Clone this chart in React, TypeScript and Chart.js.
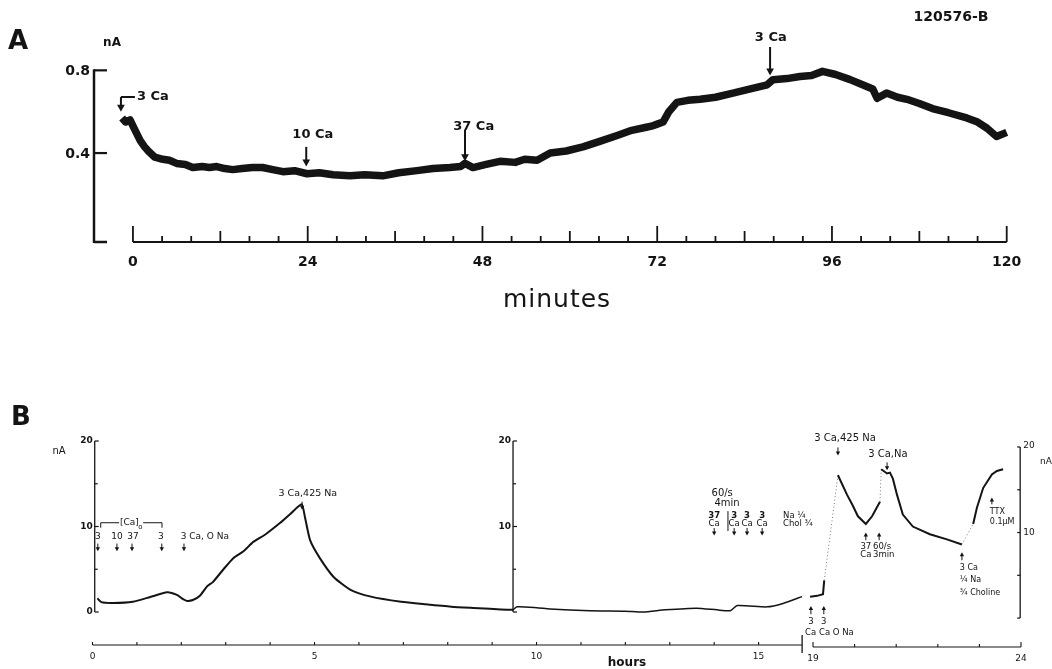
import React, { useEffect, useRef } from 'react';
import { Chart, registerables } from 'chart.js';

Chart.register(...registerables);

const FONT = '"DejaVu Sans", sans-serif';
const INK = '#141414';

// ---------- Panel A: current (nA) vs minutes ----------
const minutesA = [
  -1.5, -1.0, -0.4, 0.3, 1.0, 1.6, 2.1, 3.0, 4.1, 5.0, 6.0, 7.2, 8.2, 9.5, 10.5, 11.5, 12.6, 13.7, 15.0,
  16.4, 17.8, 19.2, 20.6, 22.2, 23.9, 25.6, 27.5, 29.8, 31.8, 34.3, 36.5, 39.0, 41.2, 43.5, 45.0, 45.6,
  46.7, 48.5, 50.4, 52.5, 53.8, 55.5, 57.3, 59.5, 61.8, 64.0, 66.5, 68.5, 70.5, 71.2, 72.0, 72.8, 73.6,
  74.7, 76.2, 77.9, 80.0, 82.4, 84.8, 87.1, 87.9, 89.8, 91.6, 93.2, 94.7, 96.5, 98.5, 100.2, 101.6,
  102.2, 103.5, 105.0, 106.3, 108.0, 109.8, 112.0, 114.5, 116.0, 117.3, 118.6, 120.0,
];
const currentA = [
  0.57, 0.55, 0.56, 0.51, 0.46, 0.43, 0.41, 0.38, 0.37, 0.365, 0.35, 0.345, 0.33, 0.335, 0.33, 0.335,
  0.325, 0.32, 0.325, 0.33, 0.33, 0.32, 0.31, 0.315, 0.3, 0.305, 0.295, 0.29, 0.295, 0.29, 0.305, 0.315,
  0.325, 0.33, 0.335, 0.35, 0.33, 0.345, 0.36, 0.355, 0.37, 0.365, 0.4, 0.41, 0.43, 0.455, 0.485, 0.51,
  0.525, 0.53, 0.54, 0.55, 0.6, 0.645, 0.655, 0.66, 0.67, 0.69, 0.71, 0.73, 0.755, 0.76, 0.77, 0.775,
  0.795, 0.78, 0.755, 0.73, 0.71, 0.665, 0.69, 0.67, 0.66, 0.64, 0.615, 0.595, 0.57, 0.55, 0.52, 0.48, 0.5,
];
const xTicksA = [0, 24, 48, 72, 96, 120];
const yTicksA = [0.4, 0.8];

// ---------- Panel B: current (nA) vs hours ----------
const hoursB1 = [
  0.11, 0.2, 0.46, 0.91, 1.3, 1.68, 1.9, 2.04, 2.13, 2.26, 2.42, 2.58, 2.71, 2.95, 3.17, 3.4, 3.62, 3.9,
  4.22, 4.46, 4.71, 4.78, 4.9, 5.12, 5.43, 5.81, 6.27, 6.95, 7.5, 8.08, 8.7, 9.2, 9.47,
];
const currentB1 = [
  1.6, 1.15, 1.05, 1.2, 1.75, 2.3, 2.0, 1.5, 1.3, 1.4, 1.9, 3.0, 3.5, 5.0, 6.3, 7.1, 8.2, 9.1, 10.4,
  11.5, 12.6, 11.2, 8.4, 6.3, 4.1, 2.6, 1.8, 1.2, 0.9, 0.62, 0.45, 0.3, 0.25,
];
const hoursB2 = [9.47, 9.56, 10.0, 10.3, 11.2, 12.0, 12.4, 12.9, 13.6, 14.06, 14.36, 14.52, 15.19, 15.55, 15.98];
const currentB2 = [0.25, 0.6, 0.5, 0.35, 0.15, 0.1, 0.0, 0.25, 0.45, 0.25, 0.15, 0.75, 0.6, 1.0, 1.8];
const hoursB3 = [
  18.93, 19.1, 19.24, 19.27, 19.6, 19.82, 19.94, 20.08, 20.27, 20.42, 20.61, 20.64, 20.78, 20.85, 20.92,
  21.02, 21.16, 21.4, 21.81, 22.22, 22.58, 22.85, 22.94, 23.09, 23.3, 23.42, 23.57,
];
const currentB3 = [
  2.5, 2.6, 2.8, 4.4, 16.7, 14.4, 13.3, 11.9, 11.0, 11.9, 13.6, 17.4, 16.9, 17.0, 16.3, 14.4, 12.1, 10.7,
  9.8, 9.2, 8.6, 11.0, 12.9, 15.2, 16.8, 17.2, 17.4,
];
const penJumpStartsB3 = [19.27, 20.61, 22.58];
const xTickLabelsB1 = [0, 5, 10, 15];
const xTickLabelsB3 = [19, 24];
const yTickLabelsB = [0, 10, 20];

// ---------- drawing helpers ----------
function line(ctx: CanvasRenderingContext2D, x1: number, y1: number, x2: number, y2: number, w = 1) {
  ctx.beginPath();
  ctx.lineWidth = w;
  ctx.moveTo(x1, y1);
  ctx.lineTo(x2, y2);
  ctx.stroke();
}
function label(
  ctx: CanvasRenderingContext2D,
  s: string,
  x: number,
  y: number,
  size: number,
  bold = false,
  align: CanvasTextAlign = 'center',
) {
  ctx.font = `${bold ? 'bold ' : ''}${size}px ${FONT}`;
  ctx.textAlign = align;
  ctx.textBaseline = 'middle';
  ctx.fillText(s, x, y);
}
function arrow(ctx: CanvasRenderingContext2D, x: number, yFrom: number, yTip: number, head: number, w: number) {
  const dir = yTip > yFrom ? 1 : -1;
  line(ctx, x, yFrom, x, yTip - dir * head * 0.5, w);
  ctx.beginPath();
  ctx.moveTo(x, yTip);
  ctx.lineTo(x - head * 0.55, yTip - dir * head);
  ctx.lineTo(x + head * 0.55, yTip - dir * head);
  ctx.closePath();
  ctx.fill();
}

// ---------- annotations (data coordinates) ----------
const annA = [
  { text: '10 Ca', x: 23.8, tx: 24.7, ty: 0.487, from: 0.43, to: 0.335 },
  { text: '37 Ca', x: 45.6, tx: 46.8, ty: 0.526, from: 0.512, to: 0.36 },
  { text: '3 Ca', x: 87.5, tx: 87.6, ty: 0.956, from: 0.913, to: 0.775 },
];

const panelAPlugin = {
  id: 'panelA',
  afterDraw(chart: any) {
    const { ctx, chartArea } = chart;
    const x = chart.scales.x;
    const y = chart.scales.y;
    ctx.save();
    ctx.fillStyle = INK;
    ctx.strokeStyle = INK;
    const left = chartArea.left;
    const bottom = chartArea.bottom;
    // y axis
    const yTop = y.getPixelForValue(0.8);
    line(ctx, left, yTop - 1, left, bottom + 1, 2.5);
    line(ctx, left, bottom, left + 13, bottom, 2.5);
    yTicksA.forEach((v) => {
      const py = y.getPixelForValue(v);
      line(ctx, left, py, left + 13, py, 2.2);
      label(ctx, v.toFixed(1), left - 4, py + 1, 14, true, 'right');
    });
    label(ctx, 'nA', 112, 43, 12, true);
    label(ctx, 'A', 18, 42, 26, true);
    // x axis
    const x0 = x.getPixelForValue(0);
    const x1 = x.getPixelForValue(120);
    line(ctx, x0, bottom, x1, bottom, 2);
    for (let m = 0; m <= 120; m += 4) {
      const px = x.getPixelForValue(m);
      const h = m % 24 === 0 ? 16 : m % 12 === 0 ? 11 : 6;
      line(ctx, px, bottom, px, bottom - h, 1.8);
    }
    xTicksA.forEach((m) => label(ctx, String(m), x.getPixelForValue(m), bottom + 20, 14, true));
    (ctx as any).letterSpacing = '1px';
    label(ctx, 'minutes', 557, 300, 25, false);
    (ctx as any).letterSpacing = '0px';
    label(ctx, '120576-B', 951, 17, 14, true);
    // first 3 Ca bracket
    const bx = x.getPixelForValue(-1.65);
    const by = y.getPixelForValue(0.671);
    line(ctx, bx, by, x.getPixelForValue(0.27), by, 2);
    arrow(ctx, bx, by, y.getPixelForValue(0.6), 7, 2);
    label(ctx, '3 Ca', 137, by, 13, true, 'left');
    annA.forEach((a) => {
      label(ctx, a.text, x.getPixelForValue(a.tx), y.getPixelForValue(a.ty), 13, true);
      arrow(ctx, x.getPixelForValue(a.x), y.getPixelForValue(a.from), y.getPixelForValue(a.to), 7, 2);
    });
    ctx.restore();
  },
};

const annB1Numbers = [
  { text: '3', x: 0.12 },
  { text: '10', x: 0.55 },
  { text: '37', x: 0.91 },
  { text: '3', x: 1.54 },
  { text: '3 Ca, O Na', x: 2.53 },
];
const annB1Arrows = [0.12, 0.55, 0.89, 1.56, 2.06];
const annB2Cols = [
  { top: '37', x: 14.0 },
  { top: '3', x: 14.45 },
  { top: '3', x: 14.74 },
  { top: '3', x: 15.08 },
];

const panelB1Plugin = {
  id: 'panelB1',
  afterDraw(chart: any) {
    const { ctx, chartArea } = chart;
    const x = chart.scales.x;
    const y = chart.scales.y;
    ctx.save();
    ctx.fillStyle = INK;
    ctx.strokeStyle = INK;
    const bottom = chartArea.bottom;
    label(ctx, 'B', 21, 418, 26, true);
    label(ctx, 'nA', 59, 451, 10, false);
    // y axes
    [0.05, 9.47].forEach((hx, i) => {
      const px = x.getPixelForValue(hx);
      line(ctx, px, y.getPixelForValue(20), px, y.getPixelForValue(0), 1.3);
      for (let v = 0; v <= 20; v += 5) {
        const py = y.getPixelForValue(v);
        line(ctx, px, py, px + (v % 10 === 0 ? 4 : 3), py, 1.2);
      }
      yTickLabelsB.forEach((v) => {
        if (i === 1 && v === 0) return;
        label(ctx, String(v), px - 2, y.getPixelForValue(v), 9, true, 'right');
      });
    });
    // x axis
    line(ctx, x.getPixelForValue(0), bottom, x.getPixelForValue(15.98), bottom, 1.2);
    for (let h = 0; h <= 15; h += 1) {
      const px = x.getPixelForValue(h);
      line(ctx, px, bottom, px, bottom - 3, 1.1);
    }
    const xe = x.getPixelForValue(15.98);
    line(ctx, xe, bottom - 10, xe, bottom + 8, 1.3);
    xTickLabelsB1.forEach((h) => label(ctx, String(h), x.getPixelForValue(h), bottom + 12, 9, false));
    label(ctx, 'hours', 627, 663, 12, true);
    // [Ca]o bracket
    const byv = y.getPixelForValue(10.44);
    const bl = x.getPixelForValue(0.185);
    const br = x.getPixelForValue(1.565);
    line(ctx, bl, byv, x.getPixelForValue(0.6), byv, 1);
    line(ctx, x.getPixelForValue(1.14), byv, br, byv, 1);
    line(ctx, bl, byv, bl, byv + 5, 1);
    line(ctx, br, byv, br, byv + 5, 1);
    label(ctx, '[Ca]', x.getPixelForValue(0.83), byv, 9, false);
    label(ctx, 'o', x.getPixelForValue(1.08), byv + 4, 7, false);
    annB1Numbers.forEach((n) => label(ctx, n.text, x.getPixelForValue(n.x), y.getPixelForValue(8.77), 9, false));
    annB1Arrows.forEach((h) => arrow(ctx, x.getPixelForValue(h), y.getPixelForValue(8.0), y.getPixelForValue(7.1), 4, 1));
    label(ctx, '3 Ca,425 Na', x.getPixelForValue(4.85), y.getPixelForValue(13.8), 9.5, false);
    arrow(ctx, x.getPixelForValue(4.72), y.getPixelForValue(12.9), y.getPixelForValue(11.95), 4, 1);
    // segment 2 labels
    label(ctx, '60/s', x.getPixelForValue(14.18), y.getPixelForValue(13.9), 10, false);
    label(ctx, '4min', x.getPixelForValue(14.29), y.getPixelForValue(12.75), 10, false);
    const bar = x.getPixelForValue(14.31);
    line(ctx, bar, y.getPixelForValue(11.8), bar, y.getPixelForValue(9.47), 1);
    annB2Cols.forEach((c) => {
      const px = x.getPixelForValue(c.x);
      label(ctx, c.top, px, y.getPixelForValue(11.23), 8.5, true);
      label(ctx, 'Ca', px, y.getPixelForValue(10.29), 8.5, false);
      arrow(ctx, px, y.getPixelForValue(9.82), y.getPixelForValue(8.95), 4, 1);
    });
    label(ctx, 'Na \u00bc', x.getPixelForValue(15.55), y.getPixelForValue(11.23), 8.5, false, 'left');
    label(ctx, 'Chol \u00be', x.getPixelForValue(15.55), y.getPixelForValue(10.29), 8.5, false, 'left');
    ctx.restore();
  },
};

const panelB3Plugin = {
  id: 'panelB3',
  afterDraw(chart: any) {
    const { ctx, chartArea } = chart;
    const x = chart.scales.x;
    const y = chart.scales.y;
    ctx.save();
    ctx.fillStyle = INK;
    ctx.strokeStyle = INK;
    const bottom = chartArea.bottom;
    // right y axis
    const ax = x.getPixelForValue(23.98);
    line(ctx, ax, y.getPixelForValue(20), ax, y.getPixelForValue(0), 1.3);
    for (let v = 0; v <= 20; v += 5) {
      const py = y.getPixelForValue(v);
      line(ctx, ax - 3, py, ax, py, 1.2);
    }
    yTickLabelsB.forEach((v) => {
      if (v === 0) return;
      label(ctx, String(v), ax + 3, y.getPixelForValue(v) + (v === 20 ? -1 : 0), 9, false, 'left');
    });
    label(ctx, 'nA', 1040, 462, 9, false, 'left');
    // x axis
    const x19 = x.getPixelForValue(19);
    const x24 = x.getPixelForValue(24);
    line(ctx, x19, bottom, x24, bottom, 1.2);
    for (let h = 19; h <= 24; h += 1) {
      const px = x.getPixelForValue(h);
      line(ctx, px, bottom, px, bottom - (h === 19 || h === 24 ? 5 : 3), 1.1);
    }
    xTickLabelsB3.forEach((h) => label(ctx, String(h), x.getPixelForValue(h), bottom + 12, 9, false));
    // annotations
    label(ctx, '3 Ca,425 Na', x.getPixelForValue(19.77), y.getPixelForValue(21.0), 10, false);
    arrow(ctx, x.getPixelForValue(19.6), y.getPixelForValue(19.95), y.getPixelForValue(19.0), 4, 1);
    label(ctx, '3 Ca,Na', x.getPixelForValue(20.8), y.getPixelForValue(19.1), 10, false);
    arrow(ctx, x.getPixelForValue(20.78), y.getPixelForValue(18.2), y.getPixelForValue(17.27), 4, 1);
    [20.27, 20.59].forEach((h) => arrow(ctx, x.getPixelForValue(h), y.getPixelForValue(9.1), y.getPixelForValue(10.0), 4, 1));
    label(ctx, '37', x.getPixelForValue(20.27), y.getPixelForValue(8.28), 8.5, false);
    label(ctx, 'Ca', x.getPixelForValue(20.27), y.getPixelForValue(7.35), 8.5, false);
    label(ctx, '60/s', x.getPixelForValue(20.66), y.getPixelForValue(8.28), 8.5, false);
    label(ctx, '3min', x.getPixelForValue(20.7), y.getPixelForValue(7.35), 8.5, false);
    [18.95, 19.26].forEach((h) => {
      arrow(ctx, x.getPixelForValue(h), y.getPixelForValue(0.45), y.getPixelForValue(1.4), 4, 1);
      label(ctx, '3', x.getPixelForValue(h), y.getPixelForValue(-0.47), 8.5, false);
    });
    label(ctx, 'Ca Ca O Na', x.getPixelForValue(18.81), y.getPixelForValue(-1.75), 8.5, false, 'left');
    arrow(ctx, x.getPixelForValue(22.58), y.getPixelForValue(6.77), y.getPixelForValue(7.7), 4, 1);
    label(ctx, '3 Ca', x.getPixelForValue(22.53), y.getPixelForValue(5.83), 8, false, 'left');
    label(ctx, '\u00bc Na', x.getPixelForValue(22.53), y.getPixelForValue(4.43), 8, false, 'left');
    label(ctx, '\u00be Choline', x.getPixelForValue(22.53), y.getPixelForValue(2.92), 8, false, 'left');
    arrow(ctx, x.getPixelForValue(23.3), y.getPixelForValue(13.3), y.getPixelForValue(14.1), 4, 1);
    label(ctx, 'TTX', x.getPixelForValue(23.25), y.getPixelForValue(12.37), 8, false, 'left');
    label(ctx, '0.1\u00b5M', x.getPixelForValue(23.25), y.getPixelForValue(11.2), 8, false, 'left');
    ctx.restore();
  },
};

function pts(xs: number[], ys: number[]) {
  return xs.map((v, i) => ({ x: v, y: ys[i] }));
}

function baseOptions(padding: any, xr: [number, number], yr: [number, number]) {
  return {
    responsive: false,
    animation: false as const,
    events: [],
    layout: { padding },
    plugins: { legend: { display: false }, tooltip: { enabled: false } },
    elements: { point: { radius: 0 } },
    scales: {
      x: { type: 'linear' as const, display: false, min: xr[0], max: xr[1] },
      y: { type: 'linear' as const, display: false, min: yr[0], max: yr[1] },
    },
  };
}

export default function App() {
  const refA = useRef<HTMLCanvasElement>(null);
  const refB1 = useRef<HTMLCanvasElement>(null);
  const refB3 = useRef<HTMLCanvasElement>(null);

  useEffect(() => {
    const chartA = new Chart(refA.current as HTMLCanvasElement, {
      type: 'line',
      data: {
        datasets: [
          {
            data: pts(minutesA, currentA),
            borderColor: INK,
            borderWidth: 7.5,
            pointRadius: 0,
            tension: 0,
            clip: false as any,
            borderJoinStyle: 'round',
            borderCapStyle: 'butt',
          },
        ],
      },
      options: baseOptions({ left: 94, right: 38, top: 60, bottom: 427 }, [-5.35, 121], [-0.03, 0.85]) as any,
      plugins: [panelAPlugin],
    });
    const chartB1 = new Chart(refB1.current as HTMLCanvasElement, {
      type: 'line',
      data: {
        datasets: [
          { data: pts(hoursB1, currentB1), borderColor: INK, borderWidth: 2, pointRadius: 0, tension: 0.2, clip: false as any },
          { data: pts(hoursB2, currentB2), borderColor: INK, borderWidth: 1.5, pointRadius: 0, tension: 0.2, clip: false as any },
        ],
      },
      options: baseOptions({ left: 92.5, right: 249, top: 441, bottom: 24 }, [0, 16], [-3.86, 20]) as any,
      plugins: [panelB1Plugin],
    });
    const isJump = (c: any) => penJumpStartsB3.includes(c.p0.parsed.x);
    const chartB3 = new Chart(refB3.current as HTMLCanvasElement, {
      type: 'line',
      data: {
        datasets: [
          {
            data: pts(hoursB3, currentB3),
            borderColor: INK,
            borderWidth: 2,
            pointRadius: 0,
            tension: 0,
            clip: false as any,
            segment: {
              borderDash: (c: any) => (isJump(c) ? [1, 2.5] : undefined),
              borderWidth: (c: any) => (isJump(c) ? 1 : undefined),
              borderColor: (c: any) => (isJump(c) ? '#777' : undefined),
            },
          } as any,
        ],
      },
      options: baseOptions({ left: 808.84, right: 28.92, top: 447, bottom: 22 }, [18.9, 24.05], [-3.38, 20]) as any,
      plugins: [panelB3Plugin],
    });
    return () => {
      chartA.destroy();
      chartB1.destroy();
      chartB3.destroy();
    };
  }, []);

  const cs: React.CSSProperties = { position: 'absolute', left: 0, top: 0 };
  return (
    <div style={{ position: 'absolute', left: 0, top: 0, width: 1052, height: 669, background: '#fff', overflow: 'hidden' }}>
      <canvas ref={refA} width={1052} height={669} style={cs} />
      <canvas ref={refB1} width={1052} height={669} style={cs} />
      <canvas ref={refB3} width={1052} height={669} style={cs} />
    </div>
  );
}
